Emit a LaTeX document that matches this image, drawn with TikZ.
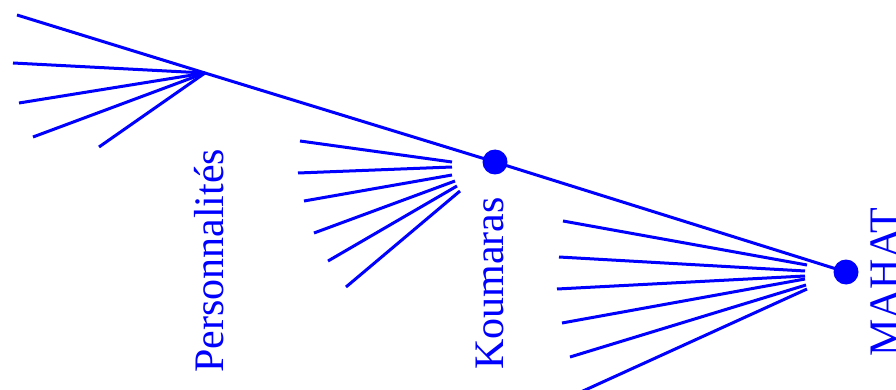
\documentclass[tikz,border=0pt]{standalone}
\usepackage{fontspec}
\setmainfont{Liberation Serif}
\definecolor{fanblue}{RGB}{0,0,255}
\begin{document}
\begin{tikzpicture}[x=1pt,y=-1pt,
  ray/.style={draw=fanblue,line width=3pt},
  dotnode/.style={circle,fill=fanblue,inner sep=0pt,minimum size=25pt},
  lbl/.style={text=fanblue,inner sep=0pt,rotate=90,anchor=base west,font=\fontsize{42}{50}\selectfont}]
\useasboundingbox (0,0) rectangle (896,390);
% main stem
\coordinate (s) at (17,15);
\coordinate (p) at (205,73);
\node[dotnode] (k) at (495,162) {};
\node[dotnode] (m) at (846,272) {};
\draw[ray] (s) -- (p) -- (k.center) -- (m.center);
% fan 1
\foreach \i/\x/\y in {1/13/63, 2/19/103, 3/33/137, 4/99/147}
  \coordinate (a\i) at (\x,\y);
\foreach \i in {1,...,4}
  \draw[ray] (p) -- (a\i);
% fan 2
\foreach \i/\x/\y/\u/\v in {1/300/141/452/162, 2/298/173/452/167, 3/304/201/452/175, 4/314/233/455/181, 5/328/261/457/186, 6/346/287/460/191}
  {\coordinate (b\i) at (\x,\y); \coordinate (bb\i) at (\u,\v);}
\foreach \i in {1,...,6}
  \draw[ray] (b\i) -- (bb\i);
% fan 3
\foreach \i/\x/\y/\u/\v in {1/563/221/807/265, 2/559/257/805/271, 3/557/289/805/276, 4/562/323/805/279, 5/570/357/806/285, 6/572/396/807/289}
  {\coordinate (c\i) at (\x,\y); \coordinate (cc\i) at (\u,\v);}
\foreach \i in {1,...,6}
  \draw[ray] (c\i) -- (cc\i);
% labels
\node[lbl] (tp) at (223,373) {Personnalités};
\node[lbl] (tk) at (503,370) {Koumaras};
\node[lbl] (tm) at (898,357) {MAHAT};
\end{tikzpicture}
\end{document}
